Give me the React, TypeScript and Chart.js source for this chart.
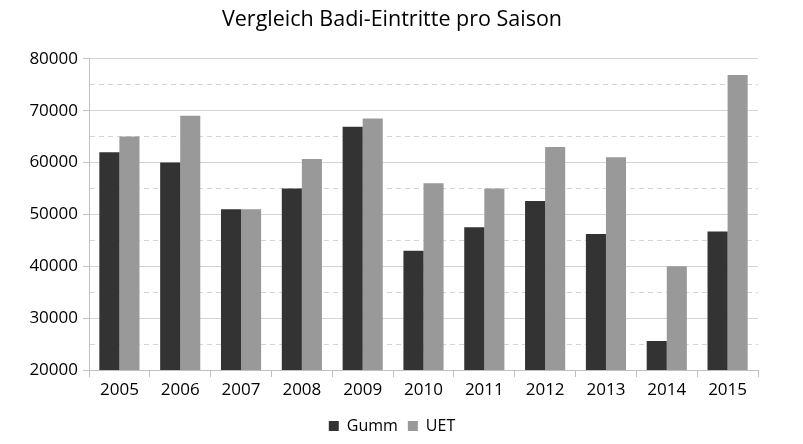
import React, { useEffect, useRef } from "react";
import { Chart, registerables } from "chart.js";

Chart.register(...registerables);

const categories = ["2005", "2006", "2007", "2008", "2009", "2010", "2011", "2012", "2013", "2014", "2015"];
const gumm = [62000, 60000, 51000, 55000, 66900, 43000, 47500, 52600, 46200, 25600, 46700];
const uet = [65000, 69000, 51000, 60700, 68500, 56000, 55000, 63000, 61000, 40000, 76900];
const titleText = "Vergleich Badi-Eintritte pro Saison";
const yMin = 20000;
const yMax = 80000;
const minorStep = 5000;
const majorStep = 10000;

const FONT = "'Open Sans', 'DejaVu Sans', sans-serif";

export default function App() {
  const ref = useRef<HTMLCanvasElement | null>(null);

  useEffect(() => {
    if (!ref.current) return;
    const isMajor = (v: number) => v % majorStep === 0;
    const chart = new Chart(ref.current, {
      type: "bar",
      data: {
        labels: categories,
        datasets: [
          { label: "Gumm", data: gumm, backgroundColor: "#333333", borderWidth: 0 },
          { label: "UET", data: uet, backgroundColor: "#999999", borderWidth: 0 },
        ],
      },
      options: {
        animation: false,
        responsive: false,
        maintainAspectRatio: false,
        devicePixelRatio: 1,
        layout: { padding: { left: 26, right: 45, top: 0, bottom: 0 } },
        datasets: { bar: { categoryPercentage: 0.66, barPercentage: 1.0 } },
        plugins: {
          title: {
            display: true,
            text: titleText,
            color: "#000000",
            font: { family: FONT, size: 21.5, weight: "normal" },
            padding: { top: 7, bottom: 26 },
          },
          legend: {
            position: "bottom",
            labels: {
              color: "#000000",
              boxWidth: 10,
              boxHeight: 10,
              padding: 10,
              font: { family: FONT, size: 16 },
            },
          },
          tooltip: { enabled: false },
        },
        scales: {
          x: {
            afterFit: (s: any) => {
              s.height = 38;
            },
            grid: {
              offset: true,
              drawOnChartArea: true,
              color: (c: any) => (c.index === categories.length ? "#c8c8c8" : "rgba(0,0,0,0)"),
              tickColor: "#c0c0c0",
              tickLength: 7,
              lineWidth: 1,
            },
            border: { display: true, color: "#c0c0c0", width: 1 },
            ticks: {
              color: "#000000",
              font: { family: FONT, size: 17 },
              padding: 3,
              maxRotation: 0,
            },
          },
          y: {
            min: yMin,
            max: yMax,
            afterFit: (s: any) => {
              s.width = 63;
            },
            grid: {
              color: (c: any) => (c.tick && isMajor(c.tick.value) ? "#d4d4d4" : "#d4d4d4"),
              tickColor: (c: any) => (c.tick && isMajor(c.tick.value) ? "#c0c0c0" : "rgba(0,0,0,0)"),
              tickLength: 6,
              lineWidth: 1,
            },
            border: {
              display: true,
              color: "#c0c0c0",
              width: 1,
              dash: (c: any) => (c.tick && !isMajor(c.tick.value) ? [5, 4] : []),
            },
            ticks: {
              stepSize: minorStep,
              color: "#000000",
              font: { family: FONT, size: 17 },
              padding: 5,
              callback: (v: any) => (isMajor(Number(v)) ? String(v) : ""),
            },
          },
        },
      },
    });
    return () => chart.destroy();
  }, []);

  return (
    <div style={{ position: "fixed", left: 0, top: 0, width: 803, height: 444, background: "#ffffff" }}>
      <canvas ref={ref} width={803} height={444} style={{ width: 803, height: 444 }} />
    </div>
  );
}
